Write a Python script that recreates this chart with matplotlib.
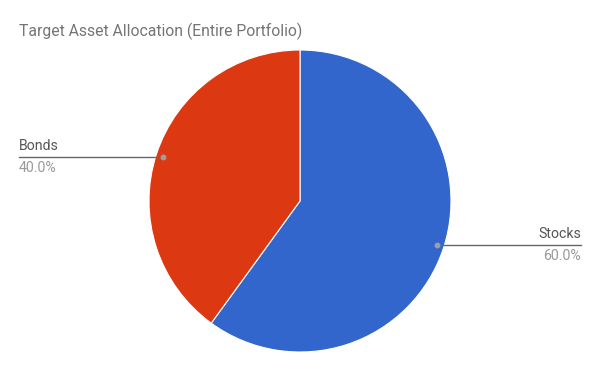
import numpy as np
import matplotlib
matplotlib.use("Agg")
import matplotlib.pyplot as plt

plt.rcParams['font.family'] = ['Roboto', 'DejaVu Sans']

labels = ["Stocks", "Bonds"]
values = [60.0, 40.0]
colors = ["#3366cc", "#dc3912"]
title = "Target Asset Allocation (Entire Portfolio)"

W, H = 600, 371
fig = plt.figure(figsize=(6, 3.71), dpi=100)
ax = fig.add_axes([0, 0, 1, 1])

cx, cy, r = 300, H - 201, 151
ax.pie(values, colors=colors, startangle=90, counterclock=False,
       center=(cx, cy), radius=r, frame=True,
       wedgeprops=dict(linewidth=0.8, edgecolor='white'))
ax.set_xlim(0, W)
ax.set_ylim(0, H)
ax.set_aspect('equal')
ax.axis('off')

# leader lines + labels
total = sum(values)
start = 90.0
for lab, v in zip(labels, values):
    span = 360.0 * v / total
    mid = np.deg2rad(start - span / 2)
    start -= span
    px = cx + 0.953 * r * np.cos(mid)
    py = cy + 0.953 * r * np.sin(mid)
    if np.cos(mid) >= 0:
        xe, ha = 581, 'right'
    else:
        xe, ha = 19, 'left'
    ax.plot([px, xe], [py, py], color='#666666', lw=1, zorder=3)
    ax.plot([px], [py], 'o', ms=3.2, color='#9e9e9e', zorder=4)
    ax.text(xe, py + 4, lab, ha=ha, va='bottom', fontsize=10.2, color='#555555')
    ax.text(xe, py - 4, f"{v:.1f}%", ha=ha, va='top', fontsize=10.2, color='#999999')

ax.text(19, H - 36, title, ha='left', va='baseline', fontsize=11.3, color='#757575')

fig.savefig("out.png", dpi=100)
